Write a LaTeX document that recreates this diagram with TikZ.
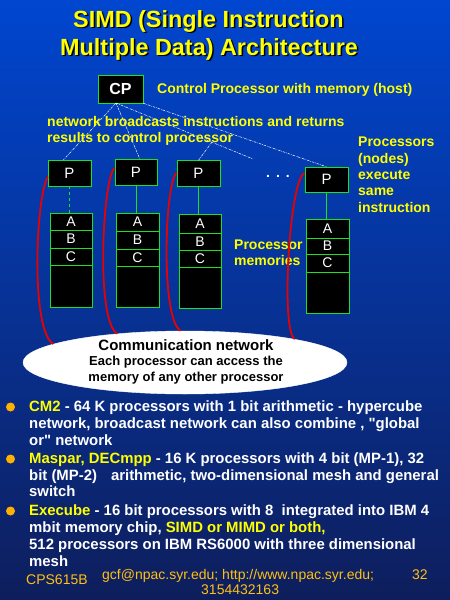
\documentclass[tikz,border=0pt]{standalone}
\usepackage{fontspec}
\setmainfont{Liberation Sans}
\usetikzlibrary{shapes.geometric}
\definecolor{bgtop}{RGB}{0,70,208}
\definecolor{bgbottom}{RGB}{14,30,92}
\definecolor{cellgreen}{RGB}{30,225,30}
\definecolor{linkred}{RGB}{235,0,0}
\definecolor{labelyellow}{RGB}{255,255,0}
\definecolor{dotorange}{RGB}{255,176,0}
\definecolor{footorange}{RGB}{255,192,20}
\newcommand{\shd}[1]{\makebox[0pt][l]{\hspace{1.5pt}\raisebox{-1.5pt}{\color{black}#1}}#1}
\tikzset{
  pbox/.style={draw=cellgreen, fill=black, text=white, inner sep=0pt, minimum width=43pt, minimum height=26pt, font=\fontsize{15}{17}\selectfont},
  membox/.style={draw=cellgreen, fill=black, inner sep=0pt, minimum width=42pt, minimum height=94pt, anchor=north},
  cell/.style={text=white, inner sep=0pt, font=\fontsize{14}{16}\selectfont},
  bcast/.style={white, line width=0.5pt, dash pattern=on 2.5pt off 1pt on 0.6pt off 1pt},
  link/.style={linkred, line width=1.8pt},
  titletext/.style={text=labelyellow, anchor=base west, inner sep=0pt, font=\bfseries\fontsize{23.4}{28}\selectfont},
  ylabel/.style={text=labelyellow, anchor=base west, inner sep=0pt, font=\bfseries\fontsize{14}{16}\selectfont},
  btext/.style={text=white, anchor=base west, inner sep=0pt, font=\bfseries\fontsize{14.9}{17}\selectfont},
  foot/.style={text=footorange, anchor=base west, inner sep=0pt, font=\fontsize{14}{16}\selectfont},
}
\begin{document}
\begin{tikzpicture}[x=1pt,y=-1pt]
\useasboundingbox (0,0) rectangle (450,600);
\shade[top color=bgtop, bottom color=bgbottom] (0,0) rectangle (450,600);
% Title
\node[titletext] (title1) at (73,27) {\shd{SIMD (Single Instruction}};
\node[titletext] (title2) at (60,55) {\shd{Multiple Data) Architecture}};
% Control processor
\node[pbox, minimum width=45pt, minimum height=28pt, font=\bfseries\fontsize{16}{18}\selectfont] (cp) at (120.5,89) {CP};
\node[ylabel] (cplabel) at (157,93) {Control Processor with memory (host)};
% Broadcast network
\coordinate (cpb) at (116,103);
\coordinate (bend) at (253,159);
\coordinate (brk) at (212,142);
% Processors
\node[pbox] (p1) at (69.5,173) {P};
\node[pbox, minimum width=42pt] (p2) at (136,172.5) {P};
\node[pbox] (p3) at (198.5,173.5) {P};
\node[pbox, minimum height=25pt] (p4) at (326.5,179.5) {P};
\node[text=white, anchor=base west, inner sep=0pt, font=\bfseries\fontsize{14}{16}\selectfont] (more) at (266,177) {.\hspace{6pt}.\hspace{6pt}.};
\draw[bcast] (cpb) -- ([xshift=-6pt]p1.north);
\draw[bcast] (cpb) -- ([xshift=4pt]p2.north);
\draw[bcast] (cpb) -- (bend);
\draw[bcast] (brk) -- (p3.north);
\draw[bcast] (cp.south east) -- (p4.north);
\node[ylabel] (bclabel1) at (47,126) {network broadcasts instructions and returns};
\node[ylabel] (bclabel2) at (47,142) {results to control processor};
% Memories
\node[membox] (m1) at (71,213) {};
\node[membox, minimum width=43pt] (m2) at (137.5,213) {};
\node[membox] (m3) at (200,214) {};
\node[membox, minimum width=43pt] (m4) at (327.5,219) {};
\draw[cellgreen, dashed] (p1.south) -- (p1.south |- m1.north);
\draw[cellgreen] (p2.south) -- (p2.south |- m2.north);
\draw[cellgreen] (p3.south) -- (p3.south |- m3.north);
\draw[cellgreen] (p4.south) -- (p4.south |- m4.north);
% Memory cells A B C
\draw[cellgreen] (50,230) -- (92,230) (50,248) -- (92,248) (50,265) -- (92,265);
\draw[cellgreen] (116,231) -- (159,231) (116,249) -- (159,249) (116,266) -- (159,266);
\draw[cellgreen] (179,233) -- (221,233) (179,250) -- (221,250) (179,267) -- (221,267);
\draw[cellgreen] (306,238) -- (349,238) (306,254) -- (349,254) (306,272) -- (349,272);
\node[cell] (a1) at (71,222) {A};
\node[cell] (b1) at (71,239) {B};
\node[cell] (c1) at (71,256.5) {C};
\node[cell] (a2) at (137.5,222) {A};
\node[cell] (b2) at (137.5,240) {B};
\node[cell] (c2) at (137.5,257.5) {C};
\node[cell] (a3) at (200,223.5) {A};
\node[cell] (b3) at (200,241.5) {B};
\node[cell] (c3) at (200,258.5) {C};
\node[cell] (a4) at (327.5,228.5) {A};
\node[cell] (b4) at (327.5,246) {B};
\node[cell] (c4) at (327.5,263) {C};
% Side labels
\node[ylabel] (nodes1) at (358,146) {Processors};
\node[ylabel] (nodes2) at (358,163) {(nodes)};
\node[ylabel] (nodes3) at (358,179) {execute};
\node[ylabel] (nodes4) at (358,195) {same};
\node[ylabel] (nodes5) at (358,212) {instruction};
\node[ylabel] (mems1) at (234,249) {Processor};
\node[ylabel] (mems2) at (234,265) {memories};
% Communication network
\node[ellipse, fill=white, draw=white, inner sep=0pt, minimum width=324pt, minimum height=63pt] (net) at (185,362.5) {};
\node[anchor=base, inner sep=0pt, font=\bfseries\fontsize{15}{17}\selectfont] (netname) at (186,350) {Communication network};
\node[anchor=base, inner sep=0pt, font=\bfseries\fontsize{13}{15}\selectfont] (netnote1) at (186,365.5) {Each processor can access the};
\node[anchor=base, inner sep=0pt, font=\bfseries\fontsize{13}{15}\selectfont] (netnote2) at (186,381) {memory of any other processor};
\draw[link] (p1.190) .. controls (36,195) and (30,330) .. (net.172);
\draw[link] (p2.168) .. controls (103,175) and (95,320) .. (net.157);
\draw[link] (p3.178) .. controls (165,180) and (160,318) .. (net.98);
\draw[link] (p4.164) .. controls (290,175) and (280,330) .. (net.12);
% Bullets
\fill[dotorange] (10.5,407) circle (4.5pt);
\fill[dotorange] (10.5,459) circle (4.5pt);
\fill[dotorange] (10.5,511) circle (4.5pt);
\node[btext] (l1) at (29,411) {\textcolor{labelyellow}{CM2} - 64 K processors with 1 bit arithmetic - hypercube};
\node[btext] (l2) at (29,428) {network, broadcast network can also combine , \textquotedbl global};
\node[btext] (l3) at (29,445) {or\textquotedbl\ network};
\node[btext] (l4) at (29,463) {\textcolor{labelyellow}{Maspar, DECmpp} - 16 K processors with 4 bit (MP-1), 32};
\node[btext] (l5) at (29,480) {bit (MP-2)\hspace{14pt}arithmetic, two-dimensional mesh and general};
\node[btext] (l6) at (29,496) {switch};
\node[btext] (l7) at (29,515) {\textcolor{labelyellow}{Execube} - 16 bit processors with 8\ \ integrated into IBM 4};
\node[btext] (l8) at (29,532) {mbit memory chip, \textcolor{labelyellow}{SIMD or MIMD or both,}};
\node[btext] (l9) at (29,549) {512 processors on IBM RS6000 with three dimensional};
\node[btext] (l10) at (29,566) {mesh};
% Footer
\node[foot] (course) at (26,584) {CPS615B};
\node[foot] (contact) at (102,579) {gcf@npac.syr.edu; http://www.npac.syr.edu;};
\node[foot] (page) at (412,579) {32};
\node[foot] (phone) at (201,594) {3154432163};
\end{tikzpicture}
\end{document}
